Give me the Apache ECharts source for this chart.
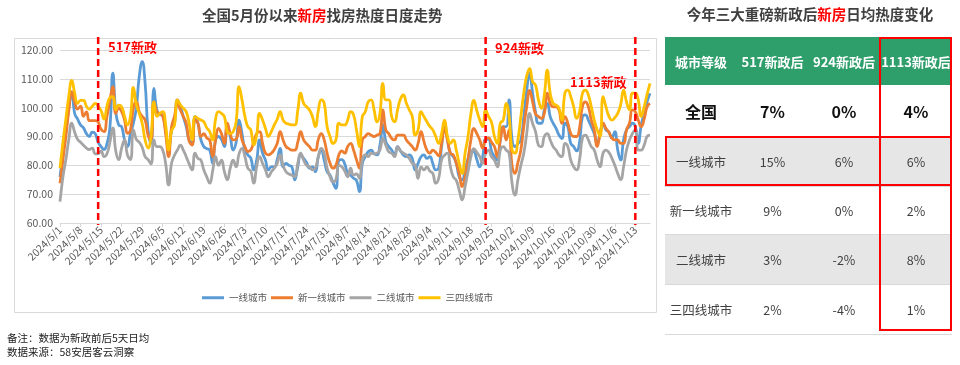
<!DOCTYPE html>
<html><head><meta charset="utf-8">
<script src="https://cdn.jsdelivr.net/npm/echarts@6/dist/echarts.min.js"></script>
<style>
html,body{margin:0;padding:0;background:#fff;width:960px;height:365px;overflow:hidden;}
#c{position:absolute;left:0;top:0;width:960px;height:365px;}
.t{position:absolute;font-family:"Noto Sans CJK SC","Noto Sans",sans-serif;}
#rtitle{left:660px;top:3px;width:300px;text-align:center;font-size:14.5px;font-weight:bold;color:#404040;}
#tbl{position:absolute;left:665px;top:37px;border-collapse:collapse;table-layout:fixed;font-family:"Noto Sans CJK SC","Noto Sans",sans-serif;}
#tbl td{padding:0;text-align:center;color:#404040;font-size:12.5px;border-bottom:1px solid #D9D9D9;}
#tbl tr.h td{background:#2E9E6B;color:#fff;font-weight:bold;font-size:13px;border-bottom:none;}
#tbl tr.n td{font-weight:bold;font-size:16px;color:#111;}
#tbl tr.g td{background:#E7E6E6;}
.box{position:absolute;border:2px solid #FF0000;box-sizing:border-box;}
</style></head>
<body>
<div id="c"></div>
<div class="t" id="rtitle">今年三大重磅新政后<span style="color:#FF0000">新房</span>日均热度变化</div>
<table id="tbl">
<colgroup><col style="width:72px"><col style="width:71px"><col style="width:72px"><col style="width:72px"></colgroup>
<tbody id="tb"></tbody>
</table>
<div class="box" style="left:879px;top:37px;width:73px;height:294px;"></div>
<div class="box" style="left:665px;top:136px;width:287px;height:50px;"></div>
<script>
// ---- data ----
const startDate = [2024, 5, 1];
const dayCount = 202;
const yTicks = [60, 70, 80, 90, 100, 110, 120];
const seriesNames = ['一线城市', '新一线城市', '二线城市', '三四线城市'];
const tier1 = [76,84,92,100,105.5,98,96,94,93,91,
90,91.5,91,88,86.5,85.5,87.5,93,112,98.6,
94,93.4,88.8,86.5,91,94.6,100,110.8,116,108.4,
92.3,87.6,106.7,99.2,97.5,97.5,92,85.3,92,94.6,
102.7,100.3,96.9,93.4,88.8,87.6,96.9,94.6,88.8,86.5,
85.8,85.3,80.7,88.8,90,89,86.5,93.4,90,85.3,
88,95.7,91,85.3,83.6,82.5,78.4,81.8,88.8,84.2,
81.8,78.4,79.5,79.5,82,85.9,79.5,80.7,80,79.5,
75,79.5,83.6,82.4,81,79,79.5,77.8,83,85.3,
81.8,77.8,76.6,74,72,81.8,82,80.5,77.2,76.6,
75.5,74.8,70.9,80.7,83,84.7,85.3,84,83.6,87,
94,88.2,86.5,85.3,83.6,86.5,85,83.6,83,83.6,
82.4,78.4,80.7,83,83.6,82.4,83,80.7,78.4,79,
86.5,94.6,88.8,84.2,83,80.7,76,75,78.4,82.4,
85,84.8,82,79.5,83,89,89,85,83,81.8,
88.8,93.4,93.4,102.7,89,86.5,87.5,88.8,96.9,106,
112,105,98.5,94.6,94.6,99.2,101.5,96.9,94.6,92.8,
90.5,89.3,94.6,93.4,87.6,86.5,85,88,97,97.5,
95.7,93.4,91,87.6,91,94.6,92.3,91.5,89.5,91.7,
85.3,81.8,88.8,92.3,93.4,94.6,93.4,87.6,94,98,
102,105];
const newTier1 = [73.8,82,90,99,105.5,102,99.5,100.5,97,98.5,
95.5,95.5,95.5,95,92.5,91.7,97,102.5,107.3,98,
99.8,98.6,95.7,91.1,92.2,100,102,98.6,97,95.7,
90.5,88.8,102,98.6,98,97,91,83,93.4,97,
101.5,99.2,96.9,94.6,88.5,87,95.7,94.6,90,91,
89.5,88.8,83,88.8,92.8,91,87.6,94.6,91,88.8,
89,93.4,88.8,86.5,84.8,85.3,88.2,91,91.7,87.6,
84.2,83.6,84.2,85.5,87.6,91.7,88.8,86.5,85.8,85.3,
85.3,88,91.7,88.8,87.5,86.5,85.3,85.3,89,91,
88.8,84.2,80.7,79,80,83.6,85,84.2,86.5,87.6,
85.3,82,79,88.8,90,91,90.5,90,90.5,91,
99.2,92.3,91,89.3,88.8,90.5,90.5,90.5,88.8,87.6,
86.5,85.3,87.6,91.7,88.2,85.3,84.2,85.3,84.5,83.3,
87.6,92.8,88.8,84.2,83.6,80.7,77.2,72.6,76,81.8,
89,92.8,91,88.8,86,89,89.5,88,86.5,83,
88.8,93.4,88.8,92.3,80,77.2,81,85.3,93.4,100.3,
106,102,97.8,96.9,96.3,98,105,101.5,100.3,100.3,
99.2,94.6,96.9,94.6,91,90,90,93,100.5,102,
100.3,95.7,92.3,86.5,91,94.6,92.8,91.5,89.5,88.8,
88.8,87.6,87.6,92.3,94.6,99.2,98.6,95.7,93.4,96,
100.3,101.5];
const tier2 = [67.4,76,82,89,94.6,91.5,89,88,87,86,
85.5,86,84,84,85,83,84,88,93,85,
82,86,88.8,83.5,82,92.3,89,88,86.3,83,
82,80.5,88.8,86.5,86.5,85.3,80.5,73.2,80.7,83.5,
85.3,87,85.3,83,80.5,78.4,84.2,82.4,81.8,78.4,
76,73.8,78,83,80,81.8,77.8,75,79,81.8,
79.5,84,85.9,83,79,78,73.8,79.5,83,80.7,
78.4,76,77.8,79,80.7,83.6,80,77.8,77,76.6,
76,80.7,84.2,81.8,80,79.5,78.4,79,83,85.9,
84.2,79,76,74.3,75,80,79.5,78,76,79,
76.6,77,75.5,81.8,83.6,83,84.2,84,84.2,85.3,
89.3,87,84.7,84.2,83,86.5,85,84.2,83.6,82.4,
80.7,80,75.5,79.5,78.4,79.5,78,77.2,73.8,75.5,
82,83.5,84.2,79.5,76,74.8,71.4,68,72.6,77.8,
83,85.8,84.5,83,80.7,84,85.3,83,81.8,79.5,
85.3,86.5,85.3,84.2,73.8,69.7,75,80,84.2,91,
98,94.5,91.7,87,86.5,90,91,88.8,86.5,85.3,
83.6,83,87.6,86.5,81.8,79.5,78.4,82,89.5,90.5,
88.8,86.5,85.3,81.8,79.5,84.2,85.3,84.5,82.5,80,
77.2,75,79.5,85.3,88.8,91,92.3,85.3,85.3,87,
90,90.5];
const tier34 = [79,88,96,104,109.5,105,101.5,102.5,102.5,100.5,
99.5,100.5,101.5,100.5,99,96,100.5,103.5,103.8,99.2,
100.9,100.3,97,94,97,107,101,98,94.6,88.8,
86,90,102,97,98,98.6,94,85.3,92,94,
102.7,101,99.8,98.6,94.6,88.8,96.9,96.3,95.7,95.1,
93,91.7,88.8,96,98.6,98,96.9,91.7,91,91.7,
95,107.3,102.7,96.9,93.4,92.3,87,90.5,98,95.7,
92.8,90,91.7,94,96,98.6,95.7,94.6,94.3,94,
94,99,105,101.5,100.3,99.2,96.9,93.4,99,102.7,
101.5,93.4,90,87.6,88.8,94.6,94,94,95.7,98.6,
97.5,92.3,86.5,96.9,98.6,102,102.7,99.2,95.1,98,
108.4,102.7,102.7,96.9,95.1,99.2,103,104.4,101.5,99.2,
97,90.5,92.3,98.6,96.9,95.1,93.5,92.3,90,87.6,
91,95.7,90,87.6,88.8,85.3,80.7,77.2,84.2,90,
98,102.5,99,95.7,93.4,99.2,96.9,95,90,87.6,
94.6,95.7,101.5,96.9,85.3,84.2,88.8,96.9,105,111,
113.5,109,107.8,102.7,99.8,104.4,113,105,101.5,100.9,
99.8,95.7,105,106.1,103.8,100.3,96.3,98.6,105,106.1,
104.4,100.3,95.7,92.3,90,103.8,100.3,97,95.7,96.5,
98,101,106.1,102,99.2,105,105,102.7,96.9,100.3,
104.5,108.4];
const policyDays = ['2024/5/14', '2024/9/23', '2024/11/13'];
const policyLabels = ['517新政', '924新政', '1113新政'];
const policyLineRange = [59.3, 124.5];
const tableHeader = ['城市等级', '517新政后', '924新政后', '1113新政后'];
const tableCities = ['全国', '一线城市', '新一线城市', '二线城市', '三四线城市'];
const after517 = ['7%', '15%', '9%', '3%', '2%'];
const after924 = ['0%', '6%', '0%', '-2%', '-4%'];
const after1113 = ['4%', '6%', '2%', '8%', '1%'];

// ---- categories ----
const categories = [];
(function(){
  const d = new Date(startDate[0], startDate[1]-1, startDate[2]);
  for (let i = 0; i < dayCount; i++) {
    categories.push(d.getFullYear() + '/' + (d.getMonth()+1) + '/' + d.getDate());
    d.setDate(d.getDate()+1);
  }
})();

// ---- table ----
(function(){
  const tb = document.getElementById('tb');
  const rowH = [48, 51, 49, 47, 49, 49];
  const cls = ['h', 'n', 'g', '', 'g', ''];
  const rows = [tableHeader].concat(tableCities.map((c, i) => [c, after517[i], after924[i], after1113[i]]));
  rows.forEach((r, i) => {
    const tr = document.createElement('tr');
    if (cls[i]) tr.className = cls[i];
    tr.style.height = rowH[i] + 'px';
    r.forEach(v => { const td = document.createElement('td'); td.textContent = v; td.style.height = rowH[i] + 'px'; tr.appendChild(td); });
    tb.appendChild(tr);
  });
})();

// ---- chart ----
const FONT = '"Noto Sans CJK SC","Noto Sans",sans-serif';
const colors = ['#5B9BD5', '#ED7D31', '#A5A5A5', '#FFC000'];
const chart = echarts.init(document.getElementById('c'), null, {renderer: 'canvas'});
const values = [tier1, newTier1, tier2, tier34];
const series = seriesNames.map((n, i) => ({
  name: n, type: 'line', data: values[i], smooth: 0.5, showSymbol: false, symbol: 'none',
  lineStyle: {width: 2.8, color: colors[i]}, itemStyle: {color: colors[i]},
  z: 2 + i
}));
const baseGraphic = [
  {type: 'rect', shape: {x: 14.5, y: 38.5, width: 642, height: 274}, style: {fill: 'none', stroke: '#D9D9D9', lineWidth: 1}, z: -1, silent: true},
  {type: 'text', left: 108, top: 41, style: {text: policyLabels[0], fill: '#FF0000', font: 'bold 13px ' + FONT}},
  {type: 'text', left: 495, top: 42, style: {text: policyLabels[1], fill: '#FF0000', font: 'bold 13px ' + FONT}},
  {type: 'text', left: 570, top: 76, style: {text: policyLabels[2], fill: '#FF0000', font: 'bold 13px ' + FONT}},
  {type: 'text', left: 7, top: 333, style: {text: '备注：数据为新政前后5天日均', fill: '#222', font: '10.5px ' + FONT}},
  {type: 'text', left: 7, top: 347, style: {text: '数据来源：58安居客云洞察', fill: '#222', font: '10.5px ' + FONT}}
];
const option = {
  animation: false,
  color: colors,
  title: {
    text: '{a|全国5月份以来}{b|新房}{a|找房热度日度走势}',
    left: 197, top: 3,
    textStyle: {rich: {
      a: {fontSize: 14.5, fontWeight: 'bold', color: '#404040', fontFamily: FONT},
      b: {fontSize: 14.5, fontWeight: 'bold', color: '#FF0000', fontFamily: FONT}
    }}
  },
  grid: {left: 60, right: 310, top: 50, bottom: 142},
  legend: {
    data: seriesNames, left: 197, top: 288, icon: 'rect', itemWidth: 22, itemHeight: 3, itemGap: 4,
    textStyle: {fontSize: 9.5, color: '#595959', fontFamily: FONT}
  },
  xAxis: {
    type: 'category', data: categories, boundaryGap: false,
    axisLine: {lineStyle: {color: '#D9D9D9', width: 1}},
    axisTick: {show: true, interval: 6, length: 4, lineStyle: {color: '#D9D9D9'}},
    axisLabel: {interval: 6, rotate: 45, fontSize: 10.5, color: '#595959', margin: 5, fontFamily: FONT},
    splitLine: {show: false}
  },
  yAxis: {
    type: 'value', min: yTicks[0], max: yTicks[yTicks.length-1], interval: 10,
    axisLine: {show: false}, axisTick: {show: false},
    axisLabel: {formatter: v => v.toFixed(2), fontSize: 10.5, color: '#595959', margin: 7, fontFamily: FONT},
    splitLine: {lineStyle: {color: '#D9D9D9', width: 1}}
  },
  graphic: baseGraphic,
  series: series
};
chart.setOption(option);
// policy dashed lines placed through the axis scales
const yTop = chart.convertToPixel({yAxisIndex: 0}, policyLineRange[1]);
const yBot = chart.convertToPixel({yAxisIndex: 0}, policyLineRange[0]);
const lines = policyDays.map(d => {
  const x = chart.convertToPixel({xAxisIndex: 0}, d);
  return {type: 'line', silent: true, z: 50, shape: {x1: x, y1: yTop, x2: x, y2: yBot},
    style: {stroke: '#FF0000', lineWidth: 2.5, lineDash: [7, 4]}};
});
chart.setOption({graphic: baseGraphic.concat(lines)});
</script>
</body></html>
